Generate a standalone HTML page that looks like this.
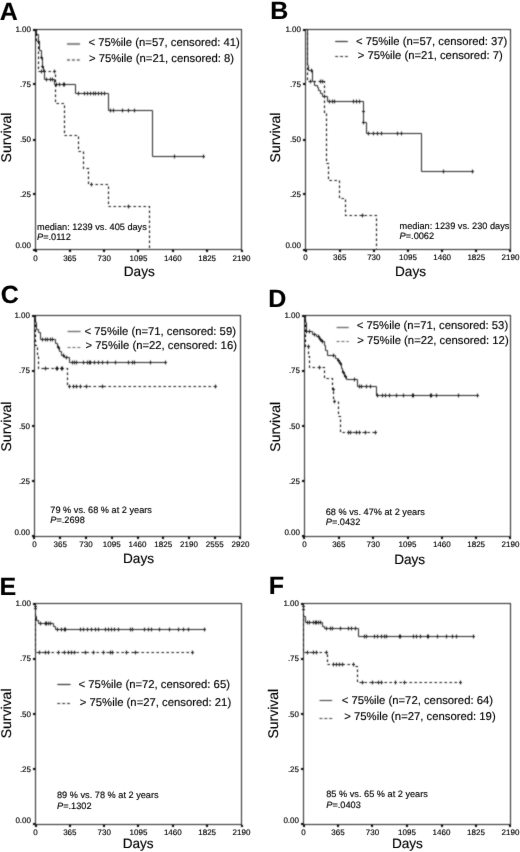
<!DOCTYPE html><html><head><meta charset="utf-8"><style>html,body{margin:0;padding:0;background:#fff;}body{width:520px;height:852px;overflow:hidden;font-family:"Liberation Sans",sans-serif;}svg{display:block;text-rendering:geometricPrecision;}</style></head><body><svg width="520" height="852" viewBox="0 0 520 852" font-family='"Liberation Sans", sans-serif' fill="#000"><defs><filter id="bl" x="0" y="0" width="520" height="852" filterUnits="userSpaceOnUse" color-interpolation-filters="sRGB"><feConvolveMatrix order="3" kernelMatrix="1 2 1 2 8 2 1 2 1" edgeMode="duplicate" preserveAlpha="true"/></filter><filter id="bt" x="0" y="0" width="520" height="852" filterUnits="userSpaceOnUse" color-interpolation-filters="sRGB"><feConvolveMatrix order="3" kernelMatrix="0 1 0 1 16 1 0 1 0" edgeMode="duplicate"/></filter></defs><g filter="url(#bl)"><rect width="520" height="852" fill="#fff"/><rect x="35.5" y="29.5" width="206.00" height="220.00" fill="none" stroke="#222" stroke-width="1.0"/><rect x="33.00" y="249.00" width="2" height="2" fill="#000"/><rect x="33.00" y="193.00" width="2" height="2" fill="#000"/><rect x="33.00" y="139.00" width="2" height="2" fill="#000"/><rect x="33.00" y="83.00" width="2" height="2" fill="#000"/><rect x="33.00" y="29.00" width="2" height="2" fill="#000"/><rect x="35.00" y="250.00" width="2" height="2" fill="#000"/><rect x="69.00" y="250.00" width="2" height="2" fill="#000"/><rect x="103.00" y="250.00" width="2" height="2" fill="#000"/><rect x="137.00" y="250.00" width="2" height="2" fill="#000"/><rect x="172.00" y="250.00" width="2" height="2" fill="#000"/><rect x="206.00" y="250.00" width="2" height="2" fill="#000"/><rect x="241.00" y="250.00" width="2" height="2" fill="#000"/><line x1="67" y1="44" x2="80" y2="44" stroke="#888" stroke-width="2.0"/><line x1="67" y1="60" x2="80" y2="60" stroke="#888" stroke-width="2.0" stroke-dasharray="2.9 2"/><path d="M35.5,29.5 H36.5 V34.5 H38.5 V41.5 H39.5 V50.5 H41.5 V57.5 H42.5 V66.5 H43.5 V71.5 H44.5 V79.5 H54.5 V84.5 H75.5 V93.5 H108.5 V110.5 H152.5 V156.5 H203.5" fill="none" stroke="#222" stroke-width="1.0"/><path d="M35.5,29.5 H36.5 V40.5 H38.5 V71.5 H55.5 V103.5 H64.5 V135.5 H78.5 V151.5 H83.5 V168.5 H88.5 V184.5 H108.5 V206.5 H149.5 V249.5" fill="none" stroke="#000" stroke-width="1.1" stroke-dasharray="2.4 2.6"/><path d="M38.5,39.60V43.40M37.00,41.5H40.00M41.5,55.60V59.40M40.00,57.5H43.00M42.5,64.60V68.40M41.00,66.5H44.00M46.5,77.60V81.40M45.00,79.5H48.00M50.5,77.60V81.40M49.00,79.5H52.00M52.5,77.60V81.40M51.00,79.5H54.00M56.5,82.60V86.40M55.00,84.5H58.00M59.5,82.60V86.40M58.00,84.5H61.00M63.5,82.60V86.40M62.00,84.5H65.00M64.5,82.60V86.40M63.00,84.5H66.00M78.5,91.60V95.40M77.00,93.5H80.00M84.5,91.60V95.40M83.00,93.5H86.00M87.5,91.60V95.40M86.00,93.5H89.00M90.5,91.60V95.40M89.00,93.5H92.00M93.5,91.60V95.40M92.00,93.5H95.00M95.5,91.60V95.40M94.00,93.5H97.00M98.5,91.60V95.40M97.00,93.5H100.00M101.5,91.60V95.40M100.00,93.5H103.00M104.5,91.60V95.40M103.00,93.5H106.00M110.5,108.60V112.40M109.00,110.5H112.00M113.5,108.60V112.40M112.00,110.5H115.00M122.5,108.60V112.40M121.00,110.5H124.00M128.5,108.60V112.40M127.00,110.5H130.00M134.5,108.60V112.40M133.00,110.5H136.00M174.5,154.60V158.40M173.00,156.5H176.00M203.5,154.60V158.40M202.00,156.5H205.00M41.5,69.60V73.40M40.00,71.5H43.00M44.5,69.60V73.40M43.00,71.5H46.00M54.5,69.60V73.40M53.00,71.5H56.00M91.5,182.60V186.40M90.00,184.5H93.00M128.5,204.60V208.40M127.00,206.5H130.00" stroke="#111" stroke-width="1.0" fill="none"/>
<rect x="305.5" y="29.5" width="205.00" height="220.00" fill="none" stroke="#222" stroke-width="1.0"/><rect x="303.00" y="249.00" width="2" height="2" fill="#000"/><rect x="303.00" y="193.00" width="2" height="2" fill="#000"/><rect x="303.00" y="139.00" width="2" height="2" fill="#000"/><rect x="303.00" y="83.00" width="2" height="2" fill="#000"/><rect x="303.00" y="29.00" width="2" height="2" fill="#000"/><rect x="305.00" y="250.00" width="2" height="2" fill="#000"/><rect x="339.00" y="250.00" width="2" height="2" fill="#000"/><rect x="373.00" y="250.00" width="2" height="2" fill="#000"/><rect x="407.00" y="250.00" width="2" height="2" fill="#000"/><rect x="441.00" y="250.00" width="2" height="2" fill="#000"/><rect x="475.00" y="250.00" width="2" height="2" fill="#000"/><rect x="509.00" y="250.00" width="2" height="2" fill="#000"/><line x1="335.2" y1="41.5" x2="347.8" y2="41.5" stroke="#222" stroke-width="1.1"/><line x1="335.2" y1="56.5" x2="347.8" y2="56.5" stroke="#222" stroke-width="1.1" stroke-dasharray="2.9 2"/><path d="M305.5,29.5 H307.5 V65.5 H308.5 V70.5 H312.5 V81.5 H314.5 V85.5 H317.5 V87.5 H318.5 V90.5 H320.5 V93.5 H322.5 V96.5 H327.5 V101.5 H363.5 V122.5 H366.5 V133.5 H421.5 V171.5 H472.5" fill="none" stroke="#222" stroke-width="1.0"/><path d="M305.5,29.5 H307.5 V81.5 H324.5 V113.5 H326.5 V163.5 H328.5 V180.5 H339.5 V198.5 H345.5 V215.5 H376.5 V249.5" fill="none" stroke="#000" stroke-width="1.1" stroke-dasharray="2.4 2.6"/><path d="M311.5,68.60V72.40M310.00,70.5H313.00M324.5,94.60V98.40M323.00,96.5H326.00M329.5,99.60V103.40M328.00,101.5H331.00M332.5,99.60V103.40M331.00,101.5H334.00M334.5,99.60V103.40M333.00,101.5H336.00M353.5,99.60V103.40M352.00,101.5H355.00M356.5,99.60V103.40M355.00,101.5H358.00M359.5,99.60V103.40M358.00,101.5H361.00M363.5,109.60V113.40M362.00,111.5H365.00M363.5,120.60V124.40M362.00,122.5H365.00M368.5,131.60V135.40M367.00,133.5H370.00M373.5,131.60V135.40M372.00,133.5H375.00M377.5,131.60V135.40M376.00,133.5H379.00M381.5,131.60V135.40M380.00,133.5H383.00M397.5,131.60V135.40M396.00,133.5H399.00M401.5,131.60V135.40M400.00,133.5H403.00M443.5,169.60V173.40M442.00,171.5H445.00M472.5,169.60V173.40M471.00,171.5H474.00M310.5,79.60V83.40M309.00,81.5H312.00M320.5,79.60V83.40M319.00,81.5H322.00M322.5,79.60V83.40M321.00,81.5H324.00M362.5,213.60V217.40M361.00,215.5H364.00" stroke="#111" stroke-width="1.0" fill="none"/>
<rect x="34.5" y="315.5" width="206.00" height="221.00" fill="none" stroke="#222" stroke-width="1.0"/><rect x="32.00" y="535.00" width="2" height="2" fill="#000"/><rect x="32.00" y="480.00" width="2" height="2" fill="#000"/><rect x="32.00" y="425.00" width="2" height="2" fill="#000"/><rect x="32.00" y="370.00" width="2" height="2" fill="#000"/><rect x="32.00" y="315.00" width="2" height="2" fill="#000"/><rect x="33.00" y="537.00" width="2" height="2" fill="#000"/><rect x="59.00" y="537.00" width="2" height="2" fill="#000"/><rect x="85.00" y="537.00" width="2" height="2" fill="#000"/><rect x="111.00" y="537.00" width="2" height="2" fill="#000"/><rect x="137.00" y="537.00" width="2" height="2" fill="#000"/><rect x="162.00" y="537.00" width="2" height="2" fill="#000"/><rect x="188.00" y="537.00" width="2" height="2" fill="#000"/><rect x="214.00" y="537.00" width="2" height="2" fill="#000"/><rect x="239.00" y="537.00" width="2" height="2" fill="#000"/><line x1="67.6" y1="331.5" x2="80.6" y2="331.5" stroke="#5a5a5a" stroke-width="1.2"/><line x1="67.6" y1="347.5" x2="80.6" y2="347.5" stroke="#5a5a5a" stroke-width="1.2" stroke-dasharray="2.9 2"/><path d="M34.5,315.5 H35.5 V322.5 H36.5 V329.5 H38.5 V332.5 H40.5 V339.5 H55.5 V343.5 H57.5 V347.5 H59.5 V351.5 H61.5 V355.5 H64.5 V357.5 H69.5 V362.5 H165.5" fill="none" stroke="#222" stroke-width="1.0"/><path d="M34.5,315.5 H35.5 V345.5 H37.5 V356.5 H38.5 V368.5 H67.5 V386.5 H215.5" fill="none" stroke="#000" stroke-width="1.1" stroke-dasharray="2.4 2.6"/><path d="M42.5,337.60V341.40M41.00,339.5H44.00M45.5,337.60V341.40M44.00,339.5H47.00M47.5,337.60V341.40M46.00,339.5H49.00M50.5,337.60V341.40M49.00,339.5H52.00M52.5,337.60V341.40M51.00,339.5H54.00M58.5,345.60V349.40M57.00,347.5H60.00M63.5,353.60V357.40M62.00,355.5H65.00M66.5,355.60V359.40M65.00,357.5H68.00M72.5,360.60V364.40M71.00,362.5H74.00M74.5,360.60V364.40M73.00,362.5H76.00M76.5,360.60V364.40M75.00,362.5H78.00M83.5,360.60V364.40M82.00,362.5H85.00M87.5,360.60V364.40M86.00,362.5H89.00M89.5,360.60V364.40M88.00,362.5H91.00M90.5,360.60V364.40M89.00,362.5H92.00M94.5,360.60V364.40M93.00,362.5H96.00M98.5,360.60V364.40M97.00,362.5H100.00M102.5,360.60V364.40M101.00,362.5H104.00M107.5,360.60V364.40M106.00,362.5H109.00M115.5,360.60V364.40M114.00,362.5H117.00M128.5,360.60V364.40M127.00,362.5H130.00M132.5,360.60V364.40M131.00,362.5H134.00M134.5,360.60V364.40M133.00,362.5H136.00M150.5,360.60V364.40M149.00,362.5H152.00M165.5,360.60V364.40M164.00,362.5H167.00M45.5,366.60V370.40M44.00,368.5H47.00M56.5,366.60V370.40M55.00,368.5H58.00M57.5,366.60V370.40M56.00,368.5H59.00M61.5,366.60V370.40M60.00,368.5H63.00M62.5,366.60V370.40M61.00,368.5H64.00M69.5,384.60V388.40M68.00,386.5H71.00M73.5,384.60V388.40M72.00,386.5H75.00M76.5,384.60V388.40M75.00,386.5H78.00M80.5,384.60V388.40M79.00,386.5H82.00M86.5,384.60V388.40M85.00,386.5H88.00M102.5,384.60V388.40M101.00,386.5H104.00M215.5,384.60V388.40M214.00,386.5H217.00" stroke="#111" stroke-width="1.0" fill="none"/>
<rect x="304.5" y="315.5" width="206.00" height="221.00" fill="none" stroke="#222" stroke-width="1.0"/><rect x="302.00" y="535.00" width="2" height="2" fill="#000"/><rect x="302.00" y="480.00" width="2" height="2" fill="#000"/><rect x="302.00" y="425.00" width="2" height="2" fill="#000"/><rect x="302.00" y="370.00" width="2" height="2" fill="#000"/><rect x="302.00" y="315.00" width="2" height="2" fill="#000"/><rect x="303.00" y="537.00" width="2" height="2" fill="#000"/><rect x="338.00" y="537.00" width="2" height="2" fill="#000"/><rect x="372.00" y="537.00" width="2" height="2" fill="#000"/><rect x="407.00" y="537.00" width="2" height="2" fill="#000"/><rect x="441.00" y="537.00" width="2" height="2" fill="#000"/><rect x="475.00" y="537.00" width="2" height="2" fill="#000"/><rect x="509.00" y="537.00" width="2" height="2" fill="#000"/><line x1="336.6" y1="327.5" x2="348.7" y2="327.5" stroke="#5a5a5a" stroke-width="1.2"/><line x1="336.6" y1="341.5" x2="348.7" y2="341.5" stroke="#5a5a5a" stroke-width="1.2" stroke-dasharray="2.9 2"/><path d="M304.5,315.5 H305.5 V322.5 H306.5 V331.5 H312.5 V334.5 H316.5 V336.5 H319.5 V339.5 H321.5 V341.5 H324.5 V345.5 H325.5 V350.5 H327.5 V355.5 H335.5 V358.5 H337.5 V360.5 H339.5 V363.5 H341.5 V368.5 H342.5 V372.5 H344.5 V376.5 H346.5 V379.5 H357.5 V386.5 H376.5 V395.5 H477.5" fill="none" stroke="#222" stroke-width="1.0"/><path d="M304.5,315.5 H305.5 V346.5 H308.5 V356.5 H309.5 V367.5 H324.5 V378.5 H332.5 V389.5 H333.5 V401.5 H338.5 V416.5 H340.5 V432.5 H375.5" fill="none" stroke="#000" stroke-width="1.1" stroke-dasharray="2.4 2.6"/><path d="M306.5,329.60V333.40M305.00,331.5H308.00M309.5,329.60V333.40M308.00,331.5H311.00M314.5,332.60V336.40M313.00,334.5H316.00M318.5,334.60V338.40M317.00,336.5H320.00M320.5,337.60V341.40M319.00,339.5H322.00M322.5,339.60V343.40M321.00,341.5H324.00M333.5,353.60V357.40M332.00,355.5H335.00M338.5,358.60V362.40M337.00,360.5H340.00M340.5,361.60V365.40M339.00,363.5H342.00M343.5,370.60V374.40M342.00,372.5H345.00M345.5,374.60V378.40M344.00,376.5H347.00M354.5,377.60V381.40M353.00,379.5H356.00M359.5,384.60V388.40M358.00,386.5H361.00M361.5,384.60V388.40M360.00,386.5H363.00M366.5,384.60V388.40M365.00,386.5H368.00M370.5,384.60V388.40M369.00,386.5H372.00M377.5,393.60V397.40M376.00,395.5H379.00M382.5,393.60V397.40M381.00,395.5H384.00M385.5,393.60V397.40M384.00,395.5H387.00M389.5,393.60V397.40M388.00,395.5H391.00M396.5,393.60V397.40M395.00,395.5H398.00M403.5,393.60V397.40M402.00,395.5H405.00M412.5,393.60V397.40M411.00,395.5H414.00M413.5,393.60V397.40M412.00,395.5H415.00M430.5,393.60V397.40M429.00,395.5H432.00M431.5,393.60V397.40M430.00,395.5H433.00M436.5,393.60V397.40M435.00,395.5H438.00M458.5,393.60V397.40M457.00,395.5H460.00M477.5,393.60V397.40M476.00,395.5H479.00M308.5,344.60V348.40M307.00,346.5H310.00M319.5,365.60V369.40M318.00,367.5H321.00M333.5,387.60V391.40M332.00,389.5H335.00M334.5,399.60V403.40M333.00,401.5H336.00M348.5,430.60V434.40M347.00,432.5H350.00M350.5,430.60V434.40M349.00,432.5H352.00M356.5,430.60V434.40M355.00,432.5H358.00M359.5,430.60V434.40M358.00,432.5H361.00M365.5,430.60V434.40M364.00,432.5H367.00M375.5,430.60V434.40M374.00,432.5H377.00" stroke="#111" stroke-width="1.0" fill="none"/>
<rect x="35.5" y="603.5" width="206.00" height="221.00" fill="none" stroke="#222" stroke-width="1.0"/><rect x="33.00" y="823.00" width="2" height="2" fill="#000"/><rect x="33.00" y="768.00" width="2" height="2" fill="#000"/><rect x="33.00" y="713.00" width="2" height="2" fill="#000"/><rect x="33.00" y="658.00" width="2" height="2" fill="#000"/><rect x="33.00" y="603.00" width="2" height="2" fill="#000"/><rect x="35.00" y="825.00" width="2" height="2" fill="#000"/><rect x="69.00" y="825.00" width="2" height="2" fill="#000"/><rect x="103.00" y="825.00" width="2" height="2" fill="#000"/><rect x="137.00" y="825.00" width="2" height="2" fill="#000"/><rect x="172.00" y="825.00" width="2" height="2" fill="#000"/><rect x="206.00" y="825.00" width="2" height="2" fill="#000"/><rect x="241.00" y="825.00" width="2" height="2" fill="#000"/><line x1="57.3" y1="684.5" x2="70.6" y2="684.5" stroke="#222" stroke-width="1.1"/><line x1="57.3" y1="703.5" x2="70.6" y2="703.5" stroke="#222" stroke-width="1.1" stroke-dasharray="2.9 2"/><path d="M35.5,603.5 V616.5 H36.5 V620.5 H38.5 V623.5 H53.5 V626.5 H55.5 V629.5 H204.5" fill="none" stroke="#222" stroke-width="1.0"/><path d="M35.5,603.5 V652.5 H192.5" fill="none" stroke="#000" stroke-width="1.1" stroke-dasharray="2.4 2.6"/><path d="M35.5,604.60V608.40M34.00,606.5H37.00M35.5,606.60V610.40M34.00,608.5H37.00M40.5,621.60V625.40M39.00,623.5H42.00M45.5,621.60V625.40M44.00,623.5H47.00M46.5,621.60V625.40M45.00,623.5H48.00M48.5,621.60V625.40M47.00,623.5H50.00M50.5,621.60V625.40M49.00,623.5H52.00M57.5,627.60V631.40M56.00,629.5H59.00M61.5,627.60V631.40M60.00,629.5H63.00M64.5,627.60V631.40M63.00,629.5H66.00M65.5,627.60V631.40M64.00,629.5H67.00M80.5,627.60V631.40M79.00,629.5H82.00M83.5,627.60V631.40M82.00,629.5H85.00M87.5,627.60V631.40M86.00,629.5H89.00M91.5,627.60V631.40M90.00,629.5H93.00M95.5,627.60V631.40M94.00,629.5H97.00M98.5,627.60V631.40M97.00,629.5H100.00M105.5,627.60V631.40M104.00,629.5H107.00M108.5,627.60V631.40M107.00,629.5H110.00M111.5,627.60V631.40M110.00,629.5H113.00M114.5,627.60V631.40M113.00,629.5H116.00M118.5,627.60V631.40M117.00,629.5H120.00M130.5,627.60V631.40M129.00,629.5H132.00M132.5,627.60V631.40M131.00,629.5H134.00M144.5,627.60V631.40M143.00,629.5H146.00M148.5,627.60V631.40M147.00,629.5H150.00M151.5,627.60V631.40M150.00,629.5H153.00M159.5,627.60V631.40M158.00,629.5H161.00M169.5,627.60V631.40M168.00,629.5H171.00M178.5,627.60V631.40M177.00,629.5H180.00M183.5,627.60V631.40M182.00,629.5H185.00M188.5,627.60V631.40M187.00,629.5H190.00M204.5,627.60V631.40M203.00,629.5H206.00M39.5,650.60V654.40M38.00,652.5H41.00M45.5,650.60V654.40M44.00,652.5H47.00M48.5,650.60V654.40M47.00,652.5H50.00M58.5,650.60V654.40M57.00,652.5H60.00M64.5,650.60V654.40M63.00,652.5H66.00M68.5,650.60V654.40M67.00,652.5H70.00M71.5,650.60V654.40M70.00,652.5H73.00M74.5,650.60V654.40M73.00,652.5H76.00M85.5,650.60V654.40M84.00,652.5H87.00M93.5,650.60V654.40M92.00,652.5H95.00M103.5,650.60V654.40M102.00,652.5H105.00M110.5,650.60V654.40M109.00,652.5H112.00M112.5,650.60V654.40M111.00,652.5H114.00M126.5,650.60V654.40M125.00,652.5H128.00M135.5,650.60V654.40M134.00,652.5H137.00M192.5,650.60V654.40M191.00,652.5H194.00" stroke="#111" stroke-width="1.0" fill="none"/>
<rect x="303.5" y="603.5" width="207.00" height="221.00" fill="none" stroke="#222" stroke-width="1.0"/><rect x="301.00" y="823.00" width="2" height="2" fill="#000"/><rect x="301.00" y="768.00" width="2" height="2" fill="#000"/><rect x="301.00" y="713.00" width="2" height="2" fill="#000"/><rect x="301.00" y="658.00" width="2" height="2" fill="#000"/><rect x="301.00" y="603.00" width="2" height="2" fill="#000"/><rect x="303.00" y="825.00" width="2" height="2" fill="#000"/><rect x="337.00" y="825.00" width="2" height="2" fill="#000"/><rect x="371.00" y="825.00" width="2" height="2" fill="#000"/><rect x="406.00" y="825.00" width="2" height="2" fill="#000"/><rect x="441.00" y="825.00" width="2" height="2" fill="#000"/><rect x="475.00" y="825.00" width="2" height="2" fill="#000"/><rect x="509.00" y="825.00" width="2" height="2" fill="#000"/><line x1="319.5" y1="700.5" x2="332.2" y2="700.5" stroke="#333" stroke-width="1.0"/><line x1="319.5" y1="718.5" x2="332.2" y2="718.5" stroke="#333" stroke-width="1.0" stroke-dasharray="2.9 2"/><path d="M303.5,603.5 V616.5 H305.5 V622.5 H322.5 V626.5 H324.5 V628.5 H358.5 V636.5 H473.5" fill="none" stroke="#222" stroke-width="1.0"/><path d="M303.5,603.5 V652.5 H327.5 V664.5 H354.5 V666.5 H357.5 V682.5 H460.5" fill="none" stroke="#000" stroke-width="1.1" stroke-dasharray="2.4 2.6"/><path d="M303.5,604.60V608.40M302.00,606.5H305.00M303.5,607.60V611.40M302.00,609.5H305.00M307.5,620.60V624.40M306.00,622.5H309.00M309.5,620.60V624.40M308.00,622.5H311.00M313.5,620.60V624.40M312.00,622.5H315.00M315.5,620.60V624.40M314.00,622.5H317.00M316.5,620.60V624.40M315.00,622.5H318.00M318.5,620.60V624.40M317.00,622.5H320.00M320.5,620.60V624.40M319.00,622.5H322.00M326.5,626.60V630.40M325.00,628.5H328.00M330.5,626.60V630.40M329.00,628.5H332.00M332.5,626.60V630.40M331.00,628.5H334.00M340.5,626.60V630.40M339.00,628.5H342.00M348.5,626.60V630.40M347.00,628.5H350.00M351.5,626.60V630.40M350.00,628.5H353.00M355.5,626.60V630.40M354.00,628.5H357.00M364.5,634.60V638.40M363.00,636.5H366.00M366.5,634.60V638.40M365.00,636.5H368.00M374.5,634.60V638.40M373.00,636.5H376.00M377.5,634.60V638.40M376.00,636.5H379.00M381.5,634.60V638.40M380.00,636.5H383.00M384.5,634.60V638.40M383.00,636.5H386.00M386.5,634.60V638.40M385.00,636.5H388.00M399.5,634.60V638.40M398.00,636.5H401.00M400.5,634.60V638.40M399.00,636.5H402.00M413.5,634.60V638.40M412.00,636.5H415.00M416.5,634.60V638.40M415.00,636.5H418.00M420.5,634.60V638.40M419.00,636.5H422.00M427.5,634.60V638.40M426.00,636.5H429.00M428.5,634.60V638.40M427.00,636.5H430.00M437.5,634.60V638.40M436.00,636.5H439.00M446.5,634.60V638.40M445.00,636.5H448.00M452.5,634.60V638.40M451.00,636.5H454.00M456.5,634.60V638.40M455.00,636.5H458.00M473.5,634.60V638.40M472.00,636.5H475.00M307.5,650.60V654.40M306.00,652.5H309.00M313.5,650.60V654.40M312.00,652.5H315.00M316.5,650.60V654.40M315.00,652.5H318.00M326.5,650.60V654.40M325.00,652.5H328.00M333.5,662.60V666.40M332.00,664.5H335.00M336.5,662.60V666.40M335.00,664.5H338.00M339.5,662.60V666.40M338.00,664.5H341.00M342.5,662.60V666.40M341.00,664.5H344.00M353.5,662.60V666.40M352.00,664.5H355.00M362.5,680.60V684.40M361.00,682.5H364.00M372.5,680.60V684.40M371.00,682.5H374.00M378.5,680.60V684.40M377.00,682.5H380.00M381.5,680.60V684.40M380.00,682.5H383.00M395.5,680.60V684.40M394.00,682.5H397.00M404.5,680.60V684.40M403.00,682.5H406.00M460.5,680.60V684.40M459.00,682.5H462.00" stroke="#111" stroke-width="1.0" fill="none"/></g><g filter="url(#bt)" stroke="#000" stroke-width="0.15"><text x="31.00" y="247.90" font-size="8.0" text-anchor="end">0.00</text><text x="31.00" y="197.10" font-size="8.0" text-anchor="end">.25</text><text x="31.00" y="142.10" font-size="8.0" text-anchor="end">.50</text><text x="31.00" y="87.10" font-size="8.0" text-anchor="end">.75</text><text x="31.00" y="32.10" font-size="8.0" text-anchor="end">1.00</text><text x="35.50" y="261.10" font-size="8.0" text-anchor="middle">0</text><text x="69.83" y="261.10" font-size="8.0" text-anchor="middle">365</text><text x="104.17" y="261.10" font-size="8.0" text-anchor="middle">730</text><text x="138.50" y="261.10" font-size="8.0" text-anchor="middle">1095</text><text x="172.83" y="261.10" font-size="8.0" text-anchor="middle">1460</text><text x="207.17" y="261.10" font-size="8.0" text-anchor="middle">1825</text><text x="241.50" y="261.10" font-size="8.0" text-anchor="middle">2190</text><text x="-0.2" y="19.7" font-size="25.0" font-weight="bold" fill="#000">A</text><text transform="translate(10.9,137.5) rotate(-90)" x="0" y="0" font-size="14.0" text-anchor="middle">Survival</text><text x="123.8" y="276.1" font-size="13.6">Days</text><text x="88.5" y="45.9" font-size="11.3">&lt; 75%ile (n=57, censored: 41)</text><text x="89.0" y="62.4" font-size="11.3">&gt; 75%ile (n=21, censored: 8)</text><text x="37" y="230" font-size="9.2">median: 1239 vs. 405 days</text><text x="37" y="240.2" font-size="9.2"><tspan font-style="italic">P</tspan>=.0112</text>
<text x="301.00" y="247.90" font-size="8.0" text-anchor="end">0.00</text><text x="301.00" y="197.10" font-size="8.0" text-anchor="end">.25</text><text x="301.00" y="142.10" font-size="8.0" text-anchor="end">.50</text><text x="301.00" y="87.10" font-size="8.0" text-anchor="end">.75</text><text x="301.00" y="32.10" font-size="8.0" text-anchor="end">1.00</text><text x="305.50" y="260.40" font-size="8.0" text-anchor="middle">0</text><text x="339.67" y="260.40" font-size="8.0" text-anchor="middle">365</text><text x="373.83" y="260.40" font-size="8.0" text-anchor="middle">730</text><text x="408.00" y="260.40" font-size="8.0" text-anchor="middle">1095</text><text x="442.17" y="260.40" font-size="8.0" text-anchor="middle">1460</text><text x="476.33" y="260.40" font-size="8.0" text-anchor="middle">1825</text><text x="510.50" y="260.40" font-size="8.0" text-anchor="middle">2190</text><text x="270.2" y="19.2" font-size="25.0" font-weight="bold" fill="#000">B</text><text transform="translate(280.3,137.5) rotate(-90)" x="0" y="0" font-size="14.0" text-anchor="middle">Survival</text><text x="395.0" y="276.1" font-size="13.6">Days</text><text x="356.0" y="44.7" font-size="11.3">&lt; 75%ile (n=57, censored: 37)</text><text x="357.7" y="59.4" font-size="11.3">&gt; 75%ile (n=21, censored: 7)</text><text x="399.6" y="228.75" font-size="9.2">median: 1239 vs. 230 days</text><text x="399.6" y="239.3" font-size="9.2"><tspan font-style="italic">P</tspan>=.0062</text>
<text x="30.00" y="534.90" font-size="8.0" text-anchor="end">0.00</text><text x="30.00" y="483.85" font-size="8.0" text-anchor="end">.25</text><text x="30.00" y="428.60" font-size="8.0" text-anchor="end">.50</text><text x="30.00" y="373.35" font-size="8.0" text-anchor="end">.75</text><text x="30.00" y="318.10" font-size="8.0" text-anchor="end">1.00</text><text x="34.50" y="547.40" font-size="8.0" text-anchor="middle">0</text><text x="60.25" y="547.40" font-size="8.0" text-anchor="middle">365</text><text x="86.00" y="547.40" font-size="8.0" text-anchor="middle">730</text><text x="111.75" y="547.40" font-size="8.0" text-anchor="middle">1095</text><text x="137.50" y="547.40" font-size="8.0" text-anchor="middle">1460</text><text x="163.25" y="547.40" font-size="8.0" text-anchor="middle">1825</text><text x="189.00" y="547.40" font-size="8.0" text-anchor="middle">2190</text><text x="214.75" y="547.40" font-size="8.0" text-anchor="middle">2555</text><text x="240.50" y="547.40" font-size="8.0" text-anchor="middle">2920</text><text x="0.8" y="302.6" font-size="25.0" font-weight="bold" fill="#000">C</text><text transform="translate(11.0,426.6) rotate(-90)" x="0" y="0" font-size="14.0" text-anchor="middle">Survival</text><text x="123.0" y="563.4" font-size="13.6">Days</text><text x="84.6" y="334.5" font-size="11.3">&lt; 75%ile (n=71, censored: 59)</text><text x="85.6" y="349.4" font-size="11.3">&gt; 75%ile (n=22, censored: 16)</text><text x="50.3" y="513" font-size="9.2">79 % vs. 68 % at 2 years</text><text x="50.3" y="522.7" font-size="9.2"><tspan font-style="italic">P</tspan>=.2698</text>
<text x="300.00" y="534.90" font-size="8.0" text-anchor="end">0.00</text><text x="300.00" y="483.85" font-size="8.0" text-anchor="end">.25</text><text x="300.00" y="428.60" font-size="8.0" text-anchor="end">.50</text><text x="300.00" y="373.35" font-size="8.0" text-anchor="end">.75</text><text x="300.00" y="318.10" font-size="8.0" text-anchor="end">1.00</text><text x="304.50" y="547.40" font-size="8.0" text-anchor="middle">0</text><text x="338.83" y="547.40" font-size="8.0" text-anchor="middle">365</text><text x="373.17" y="547.40" font-size="8.0" text-anchor="middle">730</text><text x="407.50" y="547.40" font-size="8.0" text-anchor="middle">1095</text><text x="441.83" y="547.40" font-size="8.0" text-anchor="middle">1460</text><text x="476.17" y="547.40" font-size="8.0" text-anchor="middle">1825</text><text x="510.50" y="547.40" font-size="8.0" text-anchor="middle">2190</text><text x="268.2" y="307.0" font-size="25.0" font-weight="bold" fill="#000">D</text><text transform="translate(279.8,426.8) rotate(-90)" x="0" y="0" font-size="14.0" text-anchor="middle">Survival</text><text x="394.2" y="563.8" font-size="13.6">Days</text><text x="356.8" y="329.2" font-size="11.3">&lt; 75%ile (n=71, censored: 53)</text><text x="357.3" y="344.1" font-size="11.3">&gt; 75%ile (n=22, censored: 12)</text><text x="325.75" y="514.5" font-size="9.2">68 % vs. 47% at 2 years</text><text x="325.75" y="525" font-size="9.2"><tspan font-style="italic">P</tspan>=.0432</text>
<text x="31.00" y="822.90" font-size="8.0" text-anchor="end">0.00</text><text x="31.00" y="771.85" font-size="8.0" text-anchor="end">.25</text><text x="31.00" y="716.60" font-size="8.0" text-anchor="end">.50</text><text x="31.00" y="661.35" font-size="8.0" text-anchor="end">.75</text><text x="31.00" y="606.10" font-size="8.0" text-anchor="end">1.00</text><text x="35.50" y="835.40" font-size="8.0" text-anchor="middle">0</text><text x="69.83" y="835.40" font-size="8.0" text-anchor="middle">365</text><text x="104.17" y="835.40" font-size="8.0" text-anchor="middle">730</text><text x="138.50" y="835.40" font-size="8.0" text-anchor="middle">1095</text><text x="172.83" y="835.40" font-size="8.0" text-anchor="middle">1460</text><text x="207.17" y="835.40" font-size="8.0" text-anchor="middle">1825</text><text x="241.50" y="835.40" font-size="8.0" text-anchor="middle">2190</text><text x="-0.6" y="594.5" font-size="25.0" font-weight="bold" fill="#000">E</text><text transform="translate(11.0,713.4) rotate(-90)" x="0" y="0" font-size="14.0" text-anchor="middle">Survival</text><text x="122.7" y="848.4" font-size="13.6">Days</text><text x="78.6" y="688" font-size="11.3">&lt; 75%ile (n=72, censored: 65)</text><text x="79.8" y="706" font-size="11.3">&gt; 75%ile (n=27, censored: 21)</text><text x="57" y="798.2" font-size="9.2">89 % vs. 78 % at 2 years</text><text x="57" y="808.7" font-size="9.2"><tspan font-style="italic">P</tspan>=.1302</text>
<text x="299.00" y="822.90" font-size="8.0" text-anchor="end">0.00</text><text x="299.00" y="771.85" font-size="8.0" text-anchor="end">.25</text><text x="299.00" y="716.60" font-size="8.0" text-anchor="end">.50</text><text x="299.00" y="661.35" font-size="8.0" text-anchor="end">.75</text><text x="299.00" y="606.10" font-size="8.0" text-anchor="end">1.00</text><text x="303.50" y="835.40" font-size="8.0" text-anchor="middle">0</text><text x="338.00" y="835.40" font-size="8.0" text-anchor="middle">365</text><text x="372.50" y="835.40" font-size="8.0" text-anchor="middle">730</text><text x="407.00" y="835.40" font-size="8.0" text-anchor="middle">1095</text><text x="441.50" y="835.40" font-size="8.0" text-anchor="middle">1460</text><text x="476.00" y="835.40" font-size="8.0" text-anchor="middle">1825</text><text x="510.50" y="835.40" font-size="8.0" text-anchor="middle">2190</text><text x="268.7" y="594.2" font-size="25.0" font-weight="bold" fill="#000">F</text><text transform="translate(277.8,713.7) rotate(-90)" x="0" y="0" font-size="14.0" text-anchor="middle">Survival</text><text x="391.9" y="848.2" font-size="13.6">Days</text><text x="341.7" y="703.7" font-size="11.3">&lt; 75%ile (n=72, censored: 64)</text><text x="344.3" y="720.1" font-size="11.3">&gt; 75%ile (n=27, censored: 19)</text><text x="326.25" y="796.8" font-size="9.2">85 % vs. 65 % at 2 years</text><text x="326.25" y="808" font-size="9.2"><tspan font-style="italic">P</tspan>=.0403</text></g></svg></body></html>
